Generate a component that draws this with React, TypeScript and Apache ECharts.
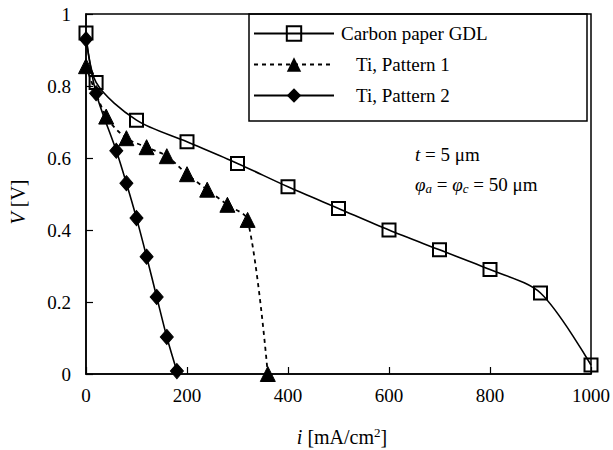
import React, { useEffect, useRef } from "react";
import * as echarts from "echarts";

const carbonName = "Carbon paper GDL";
const p1Name = "Ti, Pattern 1";
const p2Name = "Ti, Pattern 2";

const carbonX = [0, 20, 100, 200, 300, 400, 500, 600, 700, 800, 900, 1000];
const carbonV = [0.947, 0.81, 0.705, 0.645, 0.585, 0.52, 0.46, 0.4, 0.345, 0.29, 0.225, 0.025];

const p1X = [0, 40, 80, 120, 160, 200, 240, 280, 320, 360];
const p1V = [0.855, 0.715, 0.655, 0.63, 0.605, 0.555, 0.512, 0.47, 0.428, 0.0];

const p2X = [0, 20, 60, 80, 100, 120, 140, 160, 180];
const p2V = [0.93, 0.78, 0.62, 0.53, 0.433, 0.326, 0.214, 0.103, 0.008];

const xTicks = [0, 200, 400, 600, 800, 1000];
const yTicks = [0, 0.2, 0.4, 0.6, 0.8, 1];

const FONT = "Liberation Serif";

const zip = (xs: number[], ys: number[]) => xs.map((x, i) => [x, ys[i]]);

export default function App() {
  const ref = useRef<HTMLDivElement>(null);
  useEffect(() => {
    if (!ref.current) return;
    const chart = echarts.init(ref.current, undefined, { renderer: "svg" });
    chart.setOption({
      animation: false,
      backgroundColor: "#fff",
      textStyle: { fontFamily: FONT, color: "#000" },
      grid: {
        left: 86,
        right: 12,
        top: 14,
        bottom: 76,
        show: true,
        borderColor: "#000",
        borderWidth: 1.5,
        backgroundColor: "transparent",
      },
      xAxis: {
        type: "value",
        min: xTicks[0],
        max: xTicks[xTicks.length - 1],
        interval: xTicks[1] - xTicks[0],
        axisLine: { show: true, lineStyle: { color: "#000", width: 1.5 } },
        axisTick: { show: true, inside: true, length: 7, lineStyle: { color: "#000", width: 1.2 } },
        splitLine: { show: false },
        axisLabel: {
          color: "#000",
          fontFamily: FONT,
          fontSize: 19,
          margin: 12,
          formatter: (v: number) => String(v),
        },
      },
      yAxis: {
        type: "value",
        min: yTicks[0],
        max: yTicks[yTicks.length - 1],
        interval: yTicks[1] - yTicks[0],
        axisLine: { show: true, lineStyle: { color: "#000", width: 1.5 } },
        axisTick: { show: true, inside: true, length: 7, lineStyle: { color: "#000", width: 1.2 } },
        splitLine: { show: false },
        axisLabel: {
          color: "#000",
          fontFamily: FONT,
          fontSize: 19,
          margin: 15,
          formatter: (v: number) => String(Math.round(v * 10) / 10),
        },
      },
      legend: {
        orient: "vertical",
        left: 253,
        top: 24,
        itemWidth: 80,
        itemHeight: 18,
        itemGap: 12,
        padding: 0,
        data: [carbonName, p1Name, p2Name],
        formatter: (name: string) => (name === carbonName ? "{a|" + name + "}" : "{b|" + name + "}"),
        textStyle: {
          color: "#000",
          fontFamily: FONT,
          fontSize: 19,
          rich: {
            a: { fontFamily: FONT, fontSize: 19, color: "#000", padding: [0, 0, 0, 2] },
            b: { fontFamily: FONT, fontSize: 19, color: "#000", padding: [0, 0, 0, 17] },
          },
        },
      },
      graphic: [
        {
          type: "rect",
          shape: { x: 249, y: 14, width: 338, height: 107 },
          style: { fill: "none", stroke: "#000", lineWidth: 1.5 },
          z: 0,
        },
        {
          type: "text",
          x: 415,
          y: 154,
          style: {
            text: "{i|t} = 5 μm",
            fontFamily: FONT,
            fontSize: 19,
            fill: "#000",
            verticalAlign: "middle",
            rich: { i: { fontStyle: "italic", fontFamily: FONT, fontSize: 19 } },
          },
        },
        {
          type: "text",
          x: 415,
          y: 184,
          style: {
            text: "{i|φ}{s|a} = {i|φ}{s|c} = 50 μm",
            fontFamily: FONT,
            fontSize: 19,
            fill: "#000",
            verticalAlign: "middle",
            rich: {
              i: { fontStyle: "italic", fontFamily: FONT, fontSize: 19 },
              s: { fontStyle: "italic", fontFamily: FONT, fontSize: 13, padding: [9, 0, 0, 0] },
            },
          },
        },
        {
          type: "text",
          x: 342,
          y: 437,
          style: {
            text: "{i|i} [mA/cm{p|2}]",
            fontFamily: FONT,
            fontSize: 20,
            fill: "#000",
            align: "center",
            verticalAlign: "middle",
            rich: {
              i: { fontStyle: "italic", fontFamily: FONT, fontSize: 20 },
              p: { fontFamily: FONT, fontSize: 13, padding: [0, 0, 10, 0] },
            },
          },
        },
        {
          type: "text",
          x: 18,
          y: 202,
          rotation: Math.PI / 2,
          style: {
            text: "{i|V} [V]",
            fontFamily: FONT,
            fontSize: 20,
            fill: "#000",
            align: "center",
            verticalAlign: "middle",
            rich: { i: { fontStyle: "italic", fontFamily: FONT, fontSize: 20 } },
          },
        },
      ],
      series: [
        {
          name: p2Name,
          type: "line",
          data: zip(p2X, p2V),
          smooth: 0.3,
          symbol: "diamond",
          symbolSize: [13, 15],
          lineStyle: { color: "#000", width: 1.6, type: "solid" },
          itemStyle: { color: "#000", borderColor: "#000" },
          z: 3,
        },
        {
          name: p1Name,
          type: "line",
          data: zip(p1X, p1V),
          smooth: 0.3,
          symbol: "triangle",
          symbolSize: 15,
          lineStyle: { color: "#000", width: 1.8, type: [4, 4] },
          itemStyle: { color: "#000", borderColor: "#000" },
          z: 4,
        },
        {
          name: carbonName,
          type: "line",
          data: zip(carbonX, carbonV),
          smooth: 0.3,
          symbol: "rect",
          symbolSize: 13,
          lineStyle: { color: "#000", width: 1.6, type: "solid" },
          itemStyle: { color: "rgba(255,255,255,0)", borderColor: "#000", borderWidth: 2 },
          z: 5,
        },
      ],
    });
    return () => chart.dispose();
  }, []);
  return (
    <div
      ref={ref}
      style={{ position: "fixed", left: 0, top: 0, width: 613, height: 450 }}
    />
  );
}
